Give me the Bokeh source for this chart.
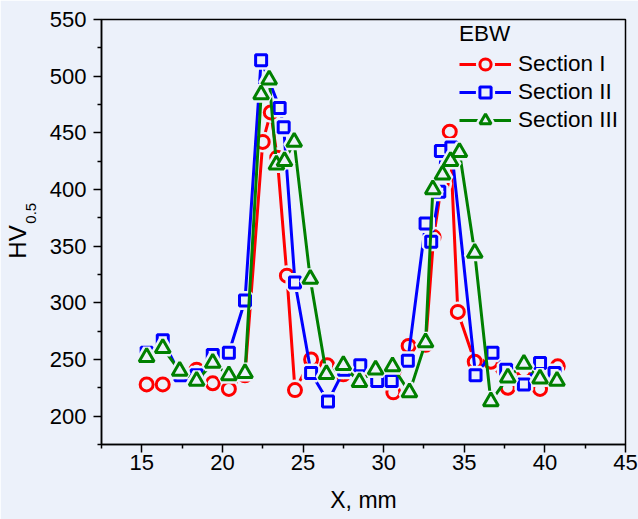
import math
from bokeh.plotting import figure
from bokeh.models import Range1d, FixedTicker, Legend, LegendItem, LinearAxis, ColumnDataSource
from bokeh.embed import file_html
from bokeh.resources import INLINE

# ---- data ----
x_sec1 = [15.3, 16.3, 17.35, 18.4, 19.4, 20.4, 21.4, 22.5, 23.0, 23.4, 24.0, 24.5, 25.5, 26.5, 27.5,
          28.55, 29.55, 30.6, 31.55, 32.6, 33.1, 33.6, 34.1, 34.6, 35.65, 36.65, 37.7, 38.7, 39.7, 40.8]
hv_sec1 = [228, 228, 237, 241, 229, 224, 236, 442, 468, 428, 324, 223, 250, 245, 237,
           240, 236, 221, 262, 263, 358, 405, 451, 292, 248, 248, 225, 240, 224, 244]

x_sec2 = [15.3, 16.3, 17.4, 18.4, 19.4, 20.4, 21.4, 22.4, 23.55, 23.8, 24.5, 25.5, 26.55, 27.55,
          28.55, 29.6, 30.5, 31.5, 32.6, 32.95, 33.45, 33.55, 34.2, 35.7, 36.75, 37.6, 38.7, 39.7, 40.6]
hv_sec2 = [256, 267, 236, 236, 254, 256, 302, 514, 472, 455, 318, 238, 213, 241,
           245, 231, 231, 249, 370, 354, 398, 434, 437, 236, 256, 241, 228, 247, 238]

x_sec3 = [15.3, 16.3, 17.35, 18.4, 19.4, 20.4, 21.4, 22.4, 22.9, 23.35, 23.85, 24.45, 25.45, 26.45, 27.5,
          28.5, 29.5, 30.55, 31.6, 32.6, 33.05, 33.65, 34.15, 34.7, 35.65, 36.65, 37.7, 38.7, 39.7, 40.75]
hv_sec3 = [252, 260, 240, 231, 247, 236, 238, 484, 497, 422, 425, 442, 321, 237, 245,
           230, 241, 244, 221, 265, 400, 413, 425, 433, 344, 213, 234, 246, 233, 231]

series_names = ["Section I", "Section II", "Section III"]
legend_title = "EBW"

x_major_ticks = [15, 20, 25, 30, 35, 40, 45]
x_minor_ticks = [12.5, 17.5, 22.5, 27.5, 32.5, 37.5, 42.5]
y_major_ticks = [200, 250, 300, 350, 400, 450, 500, 550]
y_minor_ticks = [175, 225, 275, 325, 375, 425, 475, 525]

x_label = "X, mm"
y_label_main = "HV"
y_label_sub = "0.5"

# ---- styling ----
BG = "#ecf1fa"
FONT = "Liberation Sans"
NBSP = "\u00a0"
colors = ["#ff0000", "#0000ff", "#008000"]
markers = ["circle", "square", "triangle"]
sizes = [13, 11, 15]

p = figure(width=638, height=519, output_backend="svg", toolbar_location=None,
           x_range=Range1d(12.5, 45), y_range=Range1d(175, 550),
           min_border_left=100, min_border_right=13, min_border_top=19, min_border_bottom=75,
           background_fill_color=BG, border_fill_color=BG)
p.grid.visible = False
p.outline_line_color = "black"
p.outline_line_width = 1.5

for ax in (p.xaxis[0], p.yaxis[0]):
    ax.axis_line_width = 1.5
    ax.axis_line_color = "black"
    ax.major_tick_line_width = 1.5
    ax.minor_tick_line_width = 1.5
    ax.major_tick_line_color = "black"
    ax.minor_tick_line_color = "black"
    ax.major_tick_in = 0
    ax.major_tick_out = 8
    ax.minor_tick_in = 0
    ax.minor_tick_out = 4
    ax.major_label_text_font = FONT
    ax.major_label_text_font_size = "22px"
    ax.major_label_text_color = "black"

p.xaxis.major_label_standoff = 2
p.yaxis.major_label_standoff = 7
p.xaxis.ticker = FixedTicker(ticks=x_major_ticks, minor_ticks=x_minor_ticks)
p.yaxis.ticker = FixedTicker(ticks=y_major_ticks, minor_ticks=y_minor_ticks)

p.xaxis.axis_label = x_label
p.xaxis.axis_label_text_font = FONT
p.xaxis.axis_label_text_font_size = "23px"
p.xaxis.axis_label_text_font_style = "normal"
p.xaxis.axis_label_text_color = "black"
p.xaxis.axis_label_standoff = 14

# subscript part of the y label sits on the main y axis (closest to the ticks)
p.yaxis.axis_label = NBSP * 9 + y_label_sub
p.yaxis.axis_label_text_font = FONT
p.yaxis.axis_label_text_font_size = "15px"
p.yaxis.axis_label_text_font_style = "normal"
p.yaxis.axis_label_text_color = "black"
p.yaxis.axis_label_standoff = 8

# main part "HV" on an extra, tick-less axis further left
ax_hv = LinearAxis(ticker=FixedTicker(ticks=[]), axis_line_color=None,
                   major_tick_line_color=None, minor_tick_line_color=None,
                   major_tick_out=0, minor_tick_out=0, major_tick_in=0, minor_tick_in=0,
                   axis_label=y_label_main + NBSP * 3, axis_label_text_font=FONT,
                   axis_label_text_font_size="24px", axis_label_text_font_style="normal",
                   axis_label_text_color="black", axis_label_standoff=-12)
p.add_layout(ax_hv, "left")

items = []
data = [(x_sec1, hv_sec1), (x_sec2, hv_sec2), (x_sec3, hv_sec3)]
for (xs, ys), name, col, mk, sz in zip(data, series_names, colors, markers, sizes):
    src = ColumnDataSource(dict(x=xs, y=ys))
    ln = p.line("x", "y", source=src, line_color=col, line_width=3)
    halo = p.scatter("x", "y", source=src, marker=mk, size=sz, fill_color=BG,
                     line_color=BG, line_width=8)
    mr = p.scatter("x", "y", source=src, marker=mk, size=sz, fill_color=BG,
                   line_color=col, line_width=3)
    items.append(LegendItem(label=name, renderers=[ln, halo, mr]))

leg = Legend(items=items, location=(358, 310), title=legend_title)
leg.border_line_color = None
leg.background_fill_alpha = 0
leg.label_text_font = FONT
leg.label_text_font_size = "22.5px"
leg.label_text_color = "black"
leg.title_text_font = FONT
leg.title_text_font_size = "22.5px"
leg.title_text_font_style = "normal"
leg.title_text_color = "black"
leg.glyph_width = 52
leg.glyph_height = 28
leg.label_standoff = 7
leg.spacing = 0
leg.padding = 2
leg.margin = 0
leg.title_standoff = 3
p.add_layout(leg)

open("out.html", "w").write(file_html(p, INLINE))
